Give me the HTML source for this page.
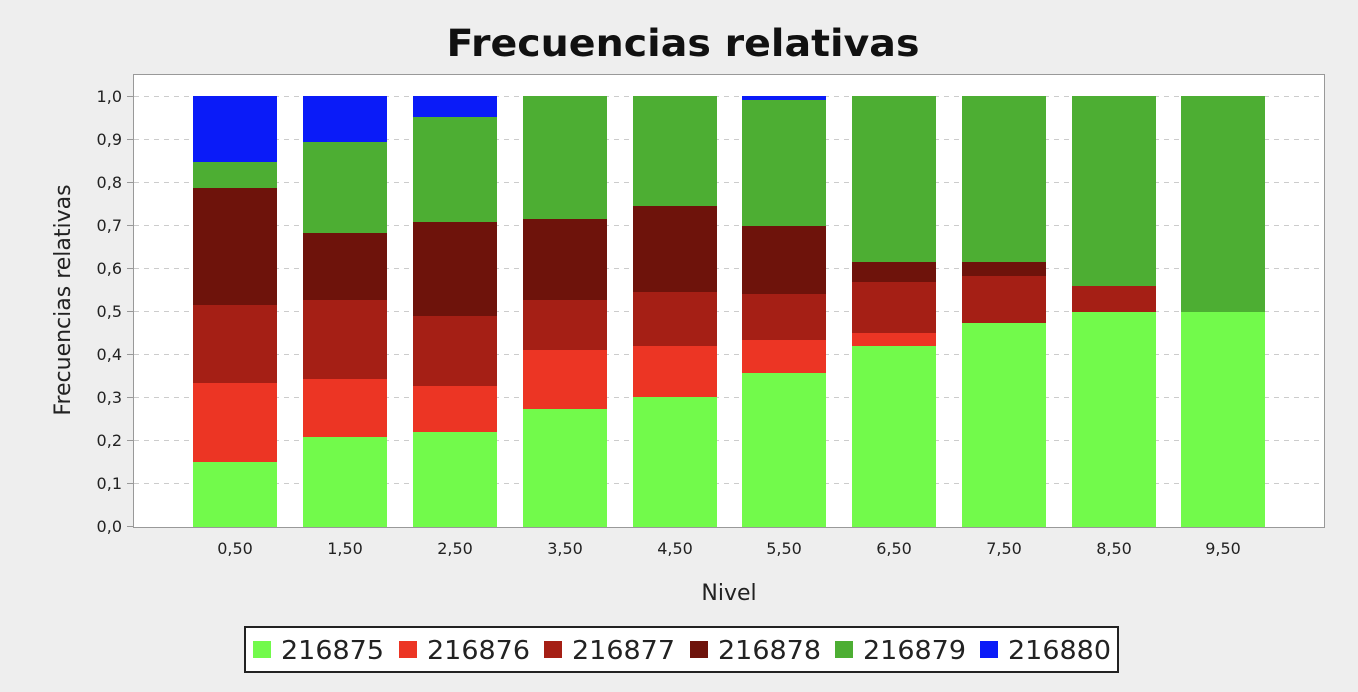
<!DOCTYPE html>
<html><head><style>
body{margin:0;background:#eeeeee;}
svg{display:block;font-family:"DejaVu Sans","Liberation Sans",sans-serif;}
</style></head><body>
<svg width="1358" height="692" xmlns="http://www.w3.org/2000/svg">
<rect width="1358" height="692" fill="#eeeeee"/>
<text x="683" y="56" text-anchor="middle" font-size="37" font-weight="bold" fill="#111" textLength="473" lengthAdjust="spacingAndGlyphs">Frecuencias relativas</text>
<rect x="133.5" y="74.5" width="1191" height="453" fill="#fff" stroke="#999"/>
<g stroke="#ccc" stroke-dasharray="5,5">
<line x1="134" x2="1324" y1="96.5" y2="96.5"/><line x1="134" x2="1324" y1="139.5" y2="139.5"/><line x1="134" x2="1324" y1="182.5" y2="182.5"/><line x1="134" x2="1324" y1="225.5" y2="225.5"/><line x1="134" x2="1324" y1="268.5" y2="268.5"/><line x1="134" x2="1324" y1="311.5" y2="311.5"/><line x1="134" x2="1324" y1="354.5" y2="354.5"/><line x1="134" x2="1324" y1="397.5" y2="397.5"/><line x1="134" x2="1324" y1="440.5" y2="440.5"/><line x1="134" x2="1324" y1="483.5" y2="483.5"/>
</g>
<g font-size="16" fill="#222" text-anchor="end">
<text x="122" y="102">1,0</text><text x="122" y="145">0,9</text><text x="122" y="188">0,8</text><text x="122" y="231">0,7</text><text x="122" y="274">0,6</text><text x="122" y="317">0,5</text><text x="122" y="360">0,4</text><text x="122" y="403">0,3</text><text x="122" y="446">0,2</text><text x="122" y="489">0,1</text><text x="122" y="532">0,0</text>
</g>
<g stroke="#999"><line x1="127" x2="133" y1="96.5" y2="96.5"/><line x1="127" x2="133" y1="139.5" y2="139.5"/><line x1="127" x2="133" y1="182.5" y2="182.5"/><line x1="127" x2="133" y1="225.5" y2="225.5"/><line x1="127" x2="133" y1="268.5" y2="268.5"/><line x1="127" x2="133" y1="311.5" y2="311.5"/><line x1="127" x2="133" y1="354.5" y2="354.5"/><line x1="127" x2="133" y1="397.5" y2="397.5"/><line x1="127" x2="133" y1="440.5" y2="440.5"/><line x1="127" x2="133" y1="483.5" y2="483.5"/><line x1="127" x2="133" y1="526.5" y2="526.5"/></g>
<text transform="translate(70,300) rotate(-90)" text-anchor="middle" font-size="22" fill="#222">Frecuencias relativas</text>
<g id="bars">
<rect x="193" y="96" width="84" height="66" fill="#0a1bf8"/><rect x="193" y="162" width="84" height="26" fill="#4dae33"/><rect x="193" y="188" width="84" height="117" fill="#6e130b"/><rect x="193" y="305" width="84" height="78" fill="#a51f15"/><rect x="193" y="383" width="84" height="79" fill="#ec3524"/><rect x="193" y="462" width="84" height="65" fill="#72fa4b"/>
<rect x="303" y="96" width="84" height="46" fill="#0a1bf8"/><rect x="303" y="142" width="84" height="91" fill="#4dae33"/><rect x="303" y="233" width="84" height="67" fill="#6e130b"/><rect x="303" y="300" width="84" height="79" fill="#a51f15"/><rect x="303" y="379" width="84" height="58" fill="#ec3524"/><rect x="303" y="437" width="84" height="90" fill="#72fa4b"/>
<rect x="413" y="96" width="84" height="21" fill="#0a1bf8"/><rect x="413" y="117" width="84" height="105" fill="#4dae33"/><rect x="413" y="222" width="84" height="94" fill="#6e130b"/><rect x="413" y="316" width="84" height="70" fill="#a51f15"/><rect x="413" y="386" width="84" height="46" fill="#ec3524"/><rect x="413" y="432" width="84" height="95" fill="#72fa4b"/>
<rect x="523" y="96" width="84" height="123" fill="#4dae33"/><rect x="523" y="219" width="84" height="81" fill="#6e130b"/><rect x="523" y="300" width="84" height="50" fill="#a51f15"/><rect x="523" y="350" width="84" height="59" fill="#ec3524"/><rect x="523" y="409" width="84" height="118" fill="#72fa4b"/>
<rect x="633" y="96" width="84" height="110" fill="#4dae33"/><rect x="633" y="206" width="84" height="86" fill="#6e130b"/><rect x="633" y="292" width="84" height="54" fill="#a51f15"/><rect x="633" y="346" width="84" height="51" fill="#ec3524"/><rect x="633" y="397" width="84" height="130" fill="#72fa4b"/>
<rect x="742" y="96" width="84" height="4" fill="#0a1bf8"/><rect x="742" y="100" width="84" height="126" fill="#4dae33"/><rect x="742" y="226" width="84" height="68" fill="#6e130b"/><rect x="742" y="294" width="84" height="46" fill="#a51f15"/><rect x="742" y="340" width="84" height="33" fill="#ec3524"/><rect x="742" y="373" width="84" height="154" fill="#72fa4b"/>
<rect x="852" y="96" width="84" height="166" fill="#4dae33"/><rect x="852" y="262" width="84" height="20" fill="#6e130b"/><rect x="852" y="282" width="84" height="51" fill="#a51f15"/><rect x="852" y="333" width="84" height="13" fill="#ec3524"/><rect x="852" y="346" width="84" height="181" fill="#72fa4b"/>
<rect x="962" y="96" width="84" height="166" fill="#4dae33"/><rect x="962" y="262" width="84" height="14" fill="#6e130b"/><rect x="962" y="276" width="84" height="47" fill="#a51f15"/><rect x="962" y="323" width="84" height="204" fill="#72fa4b"/>
<rect x="1072" y="96" width="84" height="190" fill="#4dae33"/><rect x="1072" y="286" width="84" height="26" fill="#a51f15"/><rect x="1072" y="312" width="84" height="215" fill="#72fa4b"/>
<rect x="1181" y="96" width="84" height="216" fill="#4dae33"/><rect x="1181" y="312" width="84" height="215" fill="#72fa4b"/>
</g>
<g font-size="16" fill="#222" text-anchor="middle">
<text x="235" y="554">0,50</text><text x="345" y="554">1,50</text><text x="455" y="554">2,50</text><text x="565" y="554">3,50</text><text x="675" y="554">4,50</text><text x="784" y="554">5,50</text><text x="894" y="554">6,50</text><text x="1004" y="554">7,50</text><text x="1114" y="554">8,50</text><text x="1223" y="554">9,50</text>
</g>
<text x="729" y="600" text-anchor="middle" font-size="22" fill="#222">Nivel</text>
<rect x="245" y="627" width="873" height="45" fill="#fff" stroke="#222" stroke-width="2"/>
<g font-size="26" fill="#222">
<rect x="253" y="641" width="18" height="17" fill="#72fa4b"/><text x="281" y="659" textLength="103" lengthAdjust="spacingAndGlyphs">216875</text>
<rect x="399" y="641" width="18" height="17" fill="#ec3524"/><text x="427" y="659" textLength="103" lengthAdjust="spacingAndGlyphs">216876</text>
<rect x="544" y="641" width="18" height="17" fill="#a51f15"/><text x="572" y="659" textLength="103" lengthAdjust="spacingAndGlyphs">216877</text>
<rect x="690" y="641" width="18" height="17" fill="#6e130b"/><text x="718" y="659" textLength="103" lengthAdjust="spacingAndGlyphs">216878</text>
<rect x="835" y="641" width="18" height="17" fill="#4dae33"/><text x="863" y="659" textLength="103" lengthAdjust="spacingAndGlyphs">216879</text>
<rect x="980" y="641" width="18" height="17" fill="#0a1bf8"/><text x="1008" y="659" textLength="103" lengthAdjust="spacingAndGlyphs">216880</text>
</g>
</svg>
</body></html>
